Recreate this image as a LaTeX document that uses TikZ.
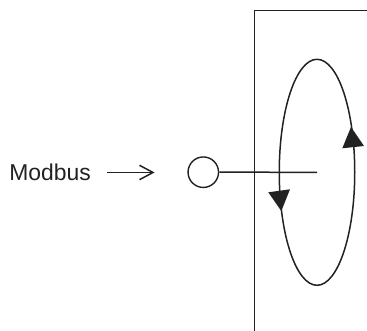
\documentclass[tikz,border=0pt]{standalone}
\usepackage{fontspec}
\setmainfont{Liberation Sans}
\usetikzlibrary{shapes.geometric}
\definecolor{ink}{HTML}{222222}
\tikzset{
  wire/.style={draw=ink,line width=1.5pt},
  label/.style={inner sep=0pt,anchor=base west,text=ink,font=\fontsize{22.9}{24}\selectfont},
  port/.style={circle,draw=ink,line width=1.4pt,fill=white,minimum size=30.5pt,inner sep=0pt},
  loop/.style={ellipse,draw=ink,line width=1.5pt,minimum width=75.5pt,minimum height=226pt,inner sep=0pt},
  head/.style={fill=ink,draw=none},
  openhead/.style={draw=ink,line width=1.5pt,line join=miter}
}
\begin{document}
\begin{tikzpicture}[x=1pt,y=-1pt]
\useasboundingbox (0,0) rectangle (367,331);
\fill[white] (0,0) rectangle (367,331);
% enclosure
\coordinate (boxtop) at (367,10.5);
\coordinate (boxcorner) at (254.5,10.5);
\coordinate (boxbottom) at (254.5,331);
\draw[wire,line join=miter] (boxtop) -- (boxcorner) -- (boxbottom);
% coil
\node[loop] (coil) at (317,172.3) {};
\fill[head] (351,127) -- (342.3,148.3) -- (364,146) -- cycle;
\fill[head] (281.3,211) -- (268.3,192.3) -- (290,189.3) -- cycle;
% port and stem
\node[port] (modport) at (203.3,172.2) {};
\draw[wire] (modport.east) -- (coil.center);
% label and arrow
\node[label] (modbus) at (9.2,180.7) {Modbus};
\coordinate (arrowstart) at (107,172.5);
\coordinate (arrowtip) at (153,172.5);
\coordinate (barbup) at (139.5,165.3);
\coordinate (barbdown) at (139.5,179.7);
\draw[wire] (arrowstart) -- (arrowtip);
\draw[openhead] (barbup) -- (arrowtip) -- (barbdown);
\end{tikzpicture}
\end{document}
